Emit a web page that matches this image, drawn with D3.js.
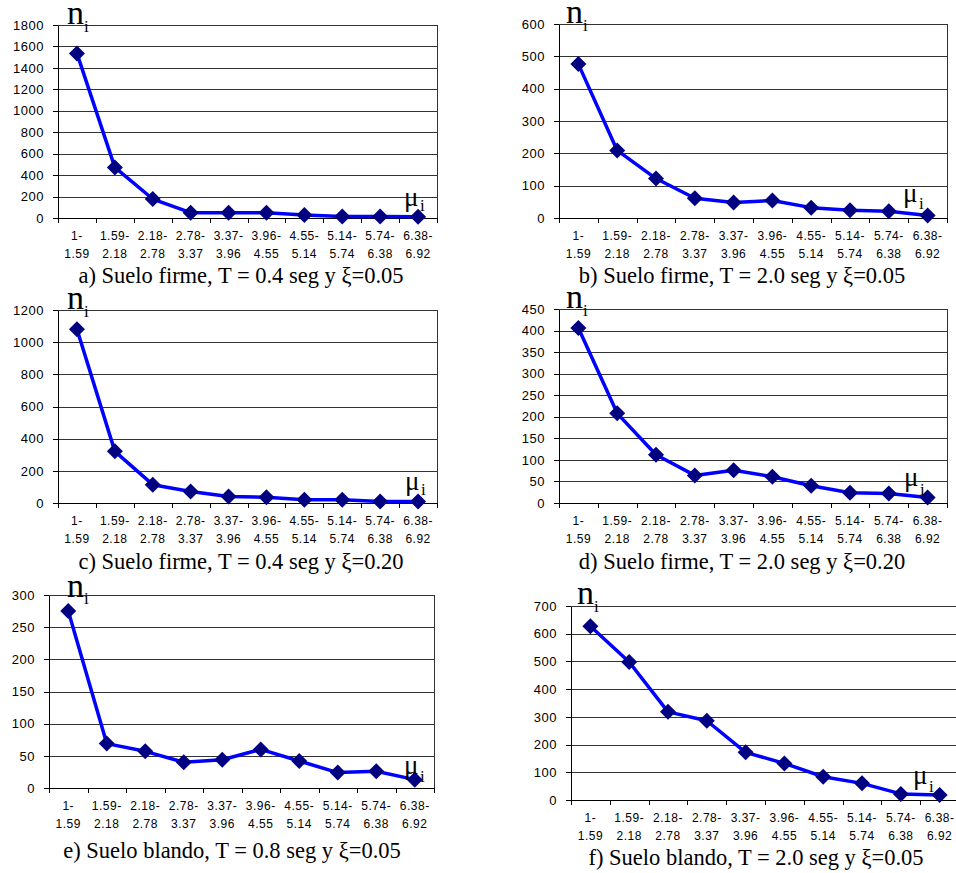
<!DOCTYPE html>
<html lang="es">
<head>
    <meta charset="UTF-8">
    <title>Distribución de n_i por intervalo de μ_i</title>
    <script src="https://d3js.org/d3.v7.min.js"></script>
    <style>
        body { margin: 0; background: #fff; }
        .tick text { font-family: "Liberation Sans", Arial, sans-serif; fill: #000; }
        .ylab text { font-size: 13px; letter-spacing: 0.5px; }
        .xlab text { font-size: 12px; letter-spacing: 0.5px; }
        .grid line { stroke: #333; stroke-width: 1; }
        .grid line, .domain, .tick line, .border { shape-rendering: crispEdges; }
        .caption { font-family: "Liberation Serif", "Times New Roman", serif; font-size: 22.5px; }
        .sym { font-family: "Liberation Serif", "Times New Roman", serif; }
    </style>
</head>
<body>
    <script>
        // Data
        const categories = ["1-1.59", "1.59-2.18", "2.18-2.78", "2.78-3.37", "3.37-3.96",
                            "3.96-4.55", "4.55-5.14", "5.14-5.74", "5.74-6.38", "6.38-6.92"];
        const valuesA = [1535, 472, 177, 50, 50, 50, 28, 15, 15, 12];
        const valuesB = [476, 209, 122, 61, 48, 54, 32, 24, 21, 8];
        const valuesC = [1080, 321, 114, 72, 41, 35, 20, 20, 10, 10];
        const valuesD = [406, 208, 112, 64, 76, 61, 40, 24, 22, 13];
        const valuesE = [275, 69, 57, 40, 44, 60, 42, 24, 26, 13];
        const valuesF = [627, 498, 318, 286, 172, 132, 84, 60, 22, 18];
        const yMax = [1800, 600, 1200, 450, 300, 700];
        const yStep = [200, 100, 200, 50, 50, 100];
        const captions = [
            "a) Suelo firme, T = 0.4 seg y \u03BE=0.05",
            "b) Suelo firme, T = 2.0 seg y \u03BE=0.05",
            "c) Suelo firme, T = 0.4 seg y \u03BE=0.20",
            "d) Suelo firme, T = 2.0 seg y \u03BE=0.20",
            "e) Suelo blando, T = 0.8 seg y \u03BE=0.05",
            "f) Suelo blando, T = 2.0 seg y \u03BE=0.05"
        ];
        const series = [valuesA, valuesB, valuesC, valuesD, valuesE, valuesF];

        // Panel placement (plot box, caption, n_i and mu_i label offsets)
        const layout = [
            {l: 58, r: 437, t: 25, b: 218, cx: 241, cy: 283, n: [9, -1, 26, 7], mu: [-33, -12, -17, -7]},
            {l: 559, r: 947, t: 24, b: 218, cx: 742, cy: 283, n: [7, -1, 24, 7], mu: [-44, -16, -28, -9]},
            {l: 58, r: 437, t: 310, b: 503, cx: 241, cy: 569, n: [9, -1, 26, 7], mu: [-32, -13, -16, -8]},
            {l: 559, r: 947, t: 309, b: 503, cx: 742, cy: 569, n: [7, -1, 24, 7], mu: [-43, -17, -27, -8]},
            {l: 49, r: 434, t: 595, b: 788, cx: 232, cy: 858, n: [18, 2, 35, 9], mu: [-30, -14, -14, -6]},
            {l: 571, r: 959, t: 606, b: 800, cx: 756, cy: 865, n: [6, -2, 23, 6], mu: [-46, -16, -30, -8]}
        ];

        const width = 956, height = 873;
        const svg = d3.select("body").append("svg")
            .attr("width", width)
            .attr("height", height);

        const diamond = d3.symbol(d3.symbolSquare, 128);

        series.forEach((vals, i) => {
            const p = layout[i];
            const w = p.r - p.l, h = p.b - p.t;
            const g = svg.append("g").attr("transform", `translate(${p.l},${p.t})`);

            const x = d3.scaleBand().domain(categories).range([0, w]);
            const xb = d3.scaleLinear().domain([0, categories.length]).range([0, w]);
            const y = d3.scaleLinear().domain([0, yMax[i]]).range([h, 0]);
            const yTicks = d3.range(0, yMax[i] + 1, yStep[i]);

            // horizontal gridlines
            g.append("g").attr("class", "grid")
                .call(d3.axisLeft(y).tickValues(yTicks).tickSize(-w).tickFormat(""))
                .call(s => s.select(".domain").remove());

            // right border
            g.append("line").attr("class", "border")
                .attr("x1", w).attr("x2", w).attr("y1", 0).attr("y2", h)
                .attr("stroke", "#333");

            // y axis
            g.append("g").attr("class", "ylab")
                .call(d3.axisLeft(y).tickValues(yTicks).tickFormat(d3.format("d"))
                    .tickSize(5).tickSizeOuter(0).tickPadding(9));

            // x axis: ticks at category boundaries
            g.append("g").attr("transform", `translate(0,${h})`)
                .call(d3.axisBottom(xb).ticks(categories.length).tickSize(5).tickSizeOuter(0).tickFormat(""));

            // category labels on two lines
            const xa = g.append("g").attr("class", "xlab").attr("transform", `translate(0,${h})`)
                .call(d3.axisBottom(x).tickSize(0));
            xa.select(".domain").remove();
            xa.selectAll(".tick text").each(function(d) {
                const k = d.indexOf("-");
                const t = d3.select(this).text(null).attr("dy", null).attr("y", null);
                t.append("tspan").attr("x", 0).attr("y", 22).text(d.slice(0, k + 1));
                t.append("tspan").attr("x", 0).attr("y", 40).text(d.slice(k + 1));
            });

            // series
            const line = d3.line()
                .x((d, j) => x(categories[j]) + x.bandwidth() / 2)
                .y(d => y(d));
            g.append("path")
                .datum(vals)
                .attr("fill", "none")
                .attr("stroke", "#0000ff")
                .attr("stroke-width", 3.5)
                .attr("stroke-linejoin", "round")
                .attr("d", line);
            g.selectAll(".pt").data(vals).join("path")
                .attr("class", "pt")
                .attr("d", diamond)
                .attr("fill", "#000080")
                .attr("transform", (d, j) =>
                    `translate(${x(categories[j]) + x.bandwidth() / 2},${y(d)}) rotate(45)`);

            // axis symbols
            g.append("text").attr("class", "sym")
                .attr("x", p.n[0]).attr("y", p.n[1])
                .style("font-size", "34px").text("n");
            g.append("text").attr("class", "sym")
                .attr("x", p.n[2]).attr("y", p.n[3])
                .style("font-size", "17px").text("i");
            g.append("text").attr("class", "sym")
                .attr("x", w + p.mu[0]).attr("y", h + p.mu[1])
                .style("font-size", "27px").text("\u03BC");
            g.append("text").attr("class", "sym")
                .attr("x", w + p.mu[2]).attr("y", h + p.mu[3])
                .style("font-size", "17px").text("i");

            // caption
            svg.append("text").attr("class", "caption")
                .attr("x", p.cx).attr("y", p.cy)
                .attr("text-anchor", "middle")
                .text(captions[i]);
        });
    </script>
</body>
</html>
